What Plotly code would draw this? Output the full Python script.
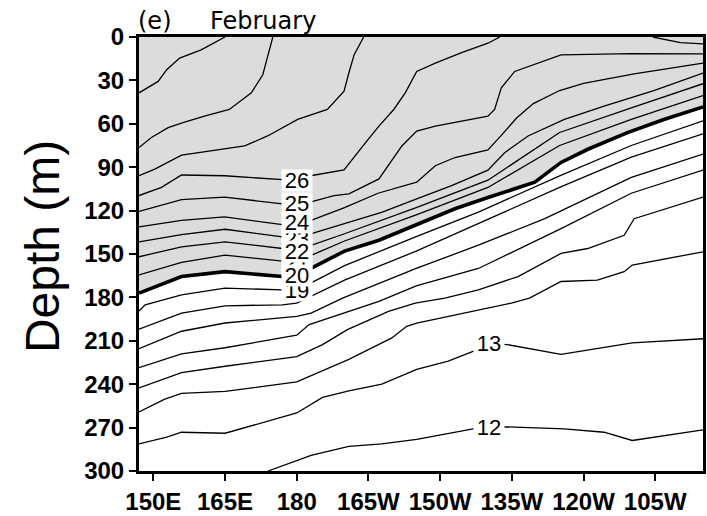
import numpy as np
import plotly.graph_objects as go

# ---- Data: isotherm depths (m) read along longitude (deg E, 0-360) ----
iso29_lon = [147, 151, 152.8, 155.5, 160, 164.2, 165]
iso29_dep = [38.6, 30.7, 22.6, 14.6, 8.9, 1.0, 0]

iso28_lon = [147, 149.6, 153.1, 156.2, 160.7, 165.9, 170.5, 172.9, 175]
iso28_dep = [76.4, 69.5, 62.7, 59.2, 54.7, 50.1, 38.6, 26.1, 0]

iso27_lon = [147, 150.3, 155.9, 164.2, 169.1, 173.9, 180.2, 186.4, 189.9, 190.9, 192.0, 194.0]
iso27_dep = [95.9, 91.3, 81.7, 78.0, 75.3, 68.4, 57.0, 50.1, 37.5, 24.9, 12.4, 0]

iso26a_lon = [147, 151.7, 155.9, 164.9, 177, 180, 182.9, 189.9, 194.4, 197.2, 200.3, 202.7, 205.1, 209, 214.5, 220, 222.5]
iso26a_dep = [109.6, 103.9, 95.4, 95.9, 98.6, 99.0, 95.9, 91.8, 73.0, 61.6, 50.1, 38.6, 23.8, 18.1, 10.8, 4.3, 0]
iso26b_lon = [254.5, 260.3, 265]
iso26b_dep = [0, 3.9, 4.8]

iso25_lon = [147, 151.7, 155.9, 164.9, 177, 180, 183, 187.8, 190.9, 197.2, 202, 205.1, 209, 220, 221.4, 222.8, 225.6, 235.3, 250, 265]
iso25_dep = [120.6, 116.5, 112.4, 110.7, 115.3, 115.0, 114.0, 109.6, 108.4, 98.1, 75.3, 65.0, 61.6, 54.7, 50.1, 35.2, 23.8, 12.4, 11.5, 11.7]

iso24_lon = [147, 155.9, 164.9, 177, 180, 183, 190, 197, 205.1, 209, 213.1, 220, 222.8, 226, 229.5, 235, 240, 250.6, 265]
iso24_dep = [131.3, 126.8, 124.4, 129.7, 128.5, 126.8, 118.0, 108.0, 100.4, 89.0, 83.3, 78.0, 68.0, 56.0, 46.0, 37.0, 32.0, 25.5, 18.1]

iso23_lon = [147, 155.9, 165, 177, 180, 183, 190, 197.9, 205.1, 212.4, 220, 223.5, 228.4, 236, 244.3, 254.7, 265]
iso23_dep = [141.6, 136.6, 132.9, 138.2, 139.0, 136.0, 129.0, 121.0, 111.9, 102.7, 92.0, 80.0, 68.4, 57.0, 47.8, 37.0, 24.9]

iso22_lon = [147, 155.9, 165, 177, 180, 183, 190, 205, 220, 235, 250, 265]
iso22_dep = [151.9, 145.0, 141.6, 146.2, 148.0, 144.0, 136.0, 118.0, 99.0, 66.0, 49.0, 32.3]

iso21_lon = [147, 155.9, 165, 177, 180, 183, 190, 205, 220, 235, 250, 265]
iso21_dep = [164.5, 155.8, 150.8, 155.3, 156.0, 151.0, 141.0, 123.0, 104.0, 75.0, 57.0, 40.5]

iso20_lon = [147, 155.9, 165, 177, 180, 183, 190, 197.2, 205.5, 213.1, 220, 229.8, 235.3, 240.9, 249.2, 256.8, 265]
iso20_dep = [177.0, 165.6, 162.2, 165.6, 165.0, 160.0, 148.0, 140.5, 129.0, 118.7, 111.0, 100.4, 86.7, 77.6, 66.1, 57.0, 48.3]

iso19_lon = [147, 148.3, 155.9, 165, 177, 180, 183, 190, 205, 218, 235, 250, 265]
iso19_dep = [189.4, 185.1, 178.2, 173.6, 174.8, 175.0, 170.0, 158.0, 138.0, 121.0, 96.0, 75.0, 58.0]

iso18_lon = [147, 155.9, 165, 177, 180, 190, 205, 218, 235, 250, 265]
iso18_dep = [202.0, 190.8, 185.8, 185.1, 184.0, 168.0, 148.0, 129.0, 104.0, 83.0, 67.0]

iso17_lon = [147, 155.9, 165, 180, 183, 189.6, 205, 218, 231.9, 250, 265]
iso17_dep = [215.5, 203.4, 197.7, 193.1, 190.8, 180.5, 160.0, 143.9, 125.6, 97.0, 81.0]

iso16_lon = [147, 155.9, 165, 180, 182.6, 189.9, 197.2, 205, 218, 235.3, 250, 265]
iso16_dep = [228.5, 219.0, 214.8, 206.1, 198.8, 190.8, 182.8, 172.0, 160.0, 132.5, 108.0, 92.0]

iso15_lon = [147, 155.9, 165, 180, 185.4, 190.6, 199.2, 204.8, 211, 218, 226.3, 235.3, 240.9, 248.5, 250.6, 265]
iso15_dep = [242.5, 232.0, 227.6, 221.0, 212.6, 202.3, 189.6, 183.9, 180.5, 174.8, 165.6, 149.6, 146.2, 137.1, 125.6, 110.7]

iso14_lon = [147, 152.4, 155.9, 165, 180, 190.9, 199.9, 203, 205.1, 211.7, 220, 224.9, 228.7, 232.5, 235.3, 242.9, 248.5, 250.2, 265]
iso14_dep = [259.2, 250.3, 246.4, 245.0, 238.4, 222.8, 208.0, 200.0, 197.7, 193.1, 187.4, 183.9, 180.5, 173.6, 169.0, 168.0, 162.2, 157.6, 148.5]

iso13_lon = [147, 152.8, 155.9, 165, 180, 185.4, 190.9, 197.8, 205.1, 211.7, 217, 220.3, 224, 235.3, 250.2, 265]
iso13_dep = [281.2, 276.6, 273.2, 273.9, 259.9, 249.1, 244.6, 240.0, 229.7, 224.0, 217.1, 212.0, 212.6, 219.4, 211.4, 208.6]

iso12_lon = [174, 180, 183, 190.9, 197.8, 205.1, 211.7, 216.9, 220.3, 224, 236, 244.3, 250.2, 265]
iso12_dep = [300, 292.6, 289.2, 283.0, 281.2, 278.2, 274.3, 270.9, 269.9, 269.5, 270.9, 273.2, 278.9, 271.6]

# axis ticks
x_tickvals = [150, 165, 180, 195, 210, 225, 240, 255]
x_ticktext = ["150E", "165E", "180", "165W", "150W", "135W", "120W", "105W"]
y_tickvals = [0, 30, 60, 90, 120, 150, 180, 210, 240, 270, 300]

# contour labels
labels_180 = [19, 21, 20, 23, 22, 24, 25, 26]   # drawn in this order, labelled at 180
labels_220 = [13, 12]                              # labelled near 140W

isotherms = {
    29: (iso29_lon, iso29_dep),
    28: (iso28_lon, iso28_dep),
    27: (iso27_lon, iso27_dep),
    26: (iso26a_lon + [None] + iso26b_lon, iso26a_dep + [None] + iso26b_dep),
    25: (iso25_lon, iso25_dep),
    24: (iso24_lon, iso24_dep),
    23: (iso23_lon, iso23_dep),
    22: (iso22_lon, iso22_dep),
    21: (iso21_lon, iso21_dep),
    20: (iso20_lon, iso20_dep),
    19: (iso19_lon, iso19_dep),
    18: (iso18_lon, iso18_dep),
    17: (iso17_lon, iso17_dep),
    16: (iso16_lon, iso16_dep),
    15: (iso15_lon, iso15_dep),
    14: (iso14_lon, iso14_dep),
    13: (iso13_lon, iso13_dep),
    12: (iso12_lon, iso12_dep),
}
label_source = dict(isotherms)
label_source[26] = (iso26a_lon, iso26a_dep)

fig = go.Figure()

# shading above the 20 C isotherm
fig.add_trace(go.Scatter(x=iso20_lon, y=iso20_dep, mode="lines", fill="tozeroy",
                         fillcolor="#dcdcdc", line=dict(width=0, color="#dcdcdc"),
                         hoverinfo="skip", showlegend=False))

for t, (lons, deps) in isotherms.items():
    fig.add_trace(go.Scatter(x=lons, y=deps, mode="lines",
                             line=dict(color="black", width=3.6 if t == 20 else 1.3),
                             connectgaps=False, showlegend=False, name=f"{t}"))

lab_font = dict(family="Liberation Sans, Arial, sans-serif", size=22, color="black")
for t in labels_180:
    lons, deps = label_source[t]
    d = float(np.interp(180, lons, deps))
    fig.add_annotation(x=180, y=d, text=str(t), showarrow=False, bgcolor="white",
                       borderpad=0, width=30, height=21, font=lab_font,
                       xanchor="center", yanchor="middle")
for t in labels_220:
    lons, deps = label_source[t]
    d = float(np.interp(220.3, lons, deps))
    fig.add_annotation(x=220.3, y=d, text=str(t), showarrow=False, bgcolor="white",
                       borderpad=0, width=30, height=21, font=lab_font,
                       xanchor="center", yanchor="middle")

tick_font = dict(family="Liberation Sans, Arial, sans-serif", size=24, color="black", weight="bold")

fig.update_layout(
    width=707, height=516,
    margin=dict(l=139, r=1, t=37, b=42),
    paper_bgcolor="white", plot_bgcolor="white",
    showlegend=False,
    xaxis=dict(range=[147, 265], tickvals=x_tickvals, ticktext=x_ticktext,
               ticks="outside", ticklen=7, tickwidth=2, tickcolor="black",
               showline=True, linewidth=3, linecolor="black", mirror=True,
               showgrid=False, zeroline=False, tickfont=tick_font),
    yaxis=dict(range=[300, 0], tickvals=y_tickvals,
               ticks="outside", ticklen=7, tickwidth=2, tickcolor="black",
               showline=True, linewidth=3, linecolor="black", mirror=True,
               showgrid=False, zeroline=False, tickfont=tick_font),
)

# y-axis title
fig.add_annotation(xref="paper", yref="paper", x=(42 - 139) / 567, y=(474 - 248) / 437,
                   text="Depth (m)", textangle=-90, showarrow=False,
                   xanchor="center", yanchor="middle",
                   font=dict(family="Liberation Sans, Arial, sans-serif", size=48, color="black"))

title_font = dict(family="DejaVu Sans, sans-serif", size=24, color="black")
fig.add_annotation(xref="paper", yref="paper", x=(136 - 139) / 567, y=1 + (37 - 21) / 437,
                   text="(e)", showarrow=False, xanchor="left", yanchor="middle", font=title_font)
fig.add_annotation(xref="paper", yref="paper", x=(208 - 139) / 567, y=1 + (37 - 21) / 437,
                   text="February", showarrow=False, xanchor="left", yanchor="middle", font=title_font)

fig.write_html("out.html")
